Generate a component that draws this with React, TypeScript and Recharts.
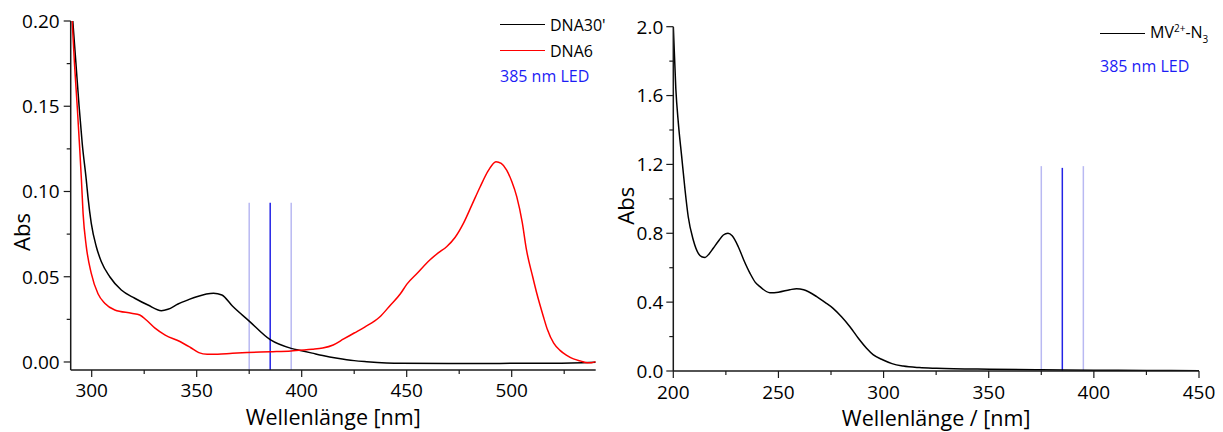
import React from 'react';
import { LineChart, Line, XAxis, YAxis, ReferenceLine, Legend } from 'recharts';

// left panel: DNA spectra
const dna30Nm = [291, 292.5, 294, 295.5, 297.4, 298.2, 299.8, 302.2, 304.6, 308.6, 314.1, 320.5, 326.8, 333.2, 336.3, 341.1, 346, 350, 358, 362, 367, 375, 385, 395, 400, 405, 410, 417, 425, 431, 447, 470, 500, 520, 540];
const dna30Abs = [0.2, 0.175, 0.15, 0.128, 0.107, 0.097, 0.0813, 0.0676, 0.0588, 0.05, 0.0422, 0.0374, 0.0334, 0.0301, 0.0309, 0.034, 0.0365, 0.0383, 0.0403, 0.0393, 0.0328, 0.024, 0.0131, 0.008, 0.0066, 0.0052, 0.0038, 0.0022, 0.0008, 0.0002, -0.0008, -0.0009, -0.0008, -0.0007, -0.0001];

const dna6Nm = [290.7, 291.8, 293.1, 294.3, 295.1, 295.9, 297.4, 299.8, 303, 306.2, 311, 318.9, 322.9, 326, 330, 335, 342, 347, 351, 355, 360, 367, 374, 385, 395, 405, 410, 415, 420, 425, 430, 437, 442, 447, 450, 455, 461, 465, 469, 473, 477, 481, 485, 489, 492.5, 495, 497.6, 500, 502.4, 505, 507, 510, 512, 515, 517, 520, 523, 526, 529.4, 533, 536, 538, 540];
const dna6Abs = [0.2, 0.175, 0.15, 0.125, 0.107, 0.087, 0.068, 0.052, 0.04, 0.0344, 0.0305, 0.0286, 0.0276, 0.0246, 0.02, 0.0158, 0.012, 0.0085, 0.0055, 0.0045, 0.0046, 0.0051, 0.0055, 0.006, 0.0065, 0.0074, 0.0082, 0.01, 0.0135, 0.017, 0.0205, 0.0262, 0.033, 0.04, 0.0455, 0.052, 0.0598, 0.064, 0.0676, 0.073, 0.0813, 0.092, 0.1028, 0.1125, 0.1175, 0.1165, 0.1126, 0.106, 0.097, 0.082, 0.066, 0.05, 0.04, 0.027, 0.019, 0.011, 0.0068, 0.004, 0.0018, 0.0005, -0.0004, -0.0004, 0.0002];

// right panel: MV2+-N3
const mvNm = [200, 201.2, 202.4, 204, 205.6, 207.1, 209.5, 211.9, 213.5, 215.1, 217, 219, 221.5, 223.8, 226, 228, 230.9, 233.5, 236.5, 239, 241.2, 245.9, 250, 255.4, 258.6, 262, 268.2, 272, 276, 280, 284, 288, 291.9, 295, 299.8, 304, 309.3, 317, 325.2, 350.5, 375, 400, 425, 450];
const mvAbs = [2.0, 1.64, 1.44, 1.244, 1.05, 0.896, 0.761, 0.683, 0.664, 0.66, 0.68, 0.713, 0.755, 0.79, 0.8, 0.785, 0.722, 0.645, 0.567, 0.515, 0.49, 0.455, 0.458, 0.472, 0.478, 0.472, 0.432, 0.4, 0.364, 0.315, 0.257, 0.19, 0.132, 0.095, 0.064, 0.043, 0.029, 0.02, 0.0157, 0.01, 0.007, 0.005, 0.003, 0.002];

// LED marker lines (centre + band edges)
const ledNm = [375, 385, 395];
const ledTopLeft = [0.0934, 0.0934, 0.0934];
const ledTopRight = [1.19, 1.18, 1.19];

const leftXMajor = [300, 350, 400, 450, 500];
const leftXMinor = [325, 375, 425, 475, 525];
const leftYMajor = [0, 0.05, 0.1, 0.15, 0.2];
const leftYMinor = [0.025, 0.075, 0.125, 0.175];
const rightXMajor = [200, 250, 300, 350, 400, 450];
const rightXMinor = [225, 275, 325, 375, 425];
const rightYMajor = [0, 0.4, 0.8, 1.2, 1.6, 2.0];
const rightYMinor = [0.2, 0.6, 1.0, 1.4, 1.8];

const zip = (xs: number[], ys: number[]) => xs.map((x, i) => ({ x, y: ys[i] }));
const allTicks = (a: number[], b: number[]) => [...a, ...b].sort((p, q) => p - q);

const AXIS = '#1a1a1a';
const LED_DARK = '#2323e6';
const LED_LIGHT = '#b9b9f2';
const FONT = "'Open Sans', sans-serif";

const xTick = (majors: number[], digits: number, dy: number) => (props: any) => {
  const { x, y, payload } = props;
  const v = payload.value;
  const major = majors.some((m) => Math.abs(m - v) < 1e-9);
  return (
    <g>
      <line x1={x} y1={y} x2={x} y2={y + (major ? 7 : 4)} stroke={AXIS} strokeWidth={1.2} />
      {major && (
        <text x={x} y={y + dy} textAnchor="middle" fontSize={19} fill="#000" fontFamily={FONT}>
          {v.toFixed(digits)}
        </text>
      )}
    </g>
  );
};

const yTick = (majors: number[], digits: number, gap: number) => (props: any) => {
  const { x, y, payload } = props;
  const v = payload.value;
  const major = majors.some((m) => Math.abs(m - v) < 1e-9);
  return (
    <g>
      <line x1={x} y1={y} x2={x - (major ? 7 : 4)} y2={y} stroke={AXIS} strokeWidth={1.2} />
      {major && (
        <text x={x - gap} y={y + 6.8} textAnchor="end" fontSize={19} fill="#000" fontFamily={FONT}>
          {v.toFixed(digits)}
        </text>
      )}
    </g>
  );
};

const xTitle = (text: string, dy: number) => (props: any) => {
  const { x, y, width } = props.viewBox;
  return (
    <text x={x + width / 2} y={y + dy} textAnchor="middle" fontSize={21.5} fill="#000" fontFamily={FONT}>
      {text}
    </text>
  );
};

const yTitle = (text: string, dx: number, cy: number) => (props: any) => {
  const { x, y, width } = props.viewBox;
  const cx = x + width - dx;
  const yy = y + cy;
  return (
    <text x={cx} y={yy} transform={`rotate(-90, ${cx}, ${yy})`} textAnchor="middle" dominantBaseline="central" fontSize={22} fill="#000" fontFamily={FONT}>
      {text}
    </text>
  );
};

const legendContent = (rowH: number) => (props: any) => {
  const payload = (props.payload || []).filter((p: any) => p.value);
  const row: React.CSSProperties = { height: rowH, display: 'flex', alignItems: 'center', whiteSpace: 'nowrap' };
  return (
    <div style={{ fontFamily: FONT, fontSize: 16, color: '#000' }}>
      {payload.map((p: any) => (
        <div key={p.value} style={row}>
          <div style={{ width: 45, borderTop: `1.5px solid ${p.color}`, marginRight: 5 }} />
          <span>
            {p.value === 'MV' ? (
              <>
                MV<sup style={{ fontSize: 10 }}>2+</sup>-N<sub style={{ fontSize: 10 }}>3</sub>
              </>
            ) : (
              p.value
            )}
          </span>
        </div>
      ))}
      <div style={{ ...row, color: '#1c1cf5' }}>385 nm LED</div>
    </div>
  );
};

export default function App() {
  const leftMin = -0.0047;
  return (
    <div style={{ position: 'absolute', left: 0, top: 0, width: 1223, height: 432, background: '#fff', fontFamily: FONT }}>
      <div style={{ position: 'absolute', left: 0, top: 0 }}>
        <LineChart width={610} height={432} margin={{ top: 21, right: 14.3, bottom: 12, left: 10.7 }}>
          <XAxis
            dataKey="x"
            type="number"
            domain={[290, 540]}
            ticks={allTicks(leftXMajor, leftXMinor)}
            interval={0}
            tickSize={0}
            tickMargin={0}
            tickLine={false}
            tick={xTick(leftXMajor, 0, 27)}
            axisLine={{ stroke: AXIS, strokeWidth: 1.5 }}
            height={50}
            allowDataOverflow
            label={xTitle('Wellenlänge [nm]', 55)}
          />
          <YAxis
            type="number"
            domain={[leftMin, 0.2]}
            ticks={allTicks(leftYMajor, leftYMinor)}
            interval={0}
            tickSize={0}
            tickMargin={0}
            tickLine={false}
            tick={yTick(leftYMajor, 2, 11)}
            axisLine={{ stroke: AXIS, strokeWidth: 1.5 }}
            width={60}
            allowDataOverflow
            label={yTitle('Abs', 50, 211)}
          />
          {ledNm.map((nm, i) => (
            <ReferenceLine
              key={nm}
              segment={[{ x: nm, y: leftMin }, { x: nm, y: ledTopLeft[i] }]}
              stroke={i === 1 ? LED_DARK : LED_LIGHT}
              strokeWidth={1.5}
            />
          ))}
          <Line data={zip(dna30Nm, dna30Abs)} dataKey="y" name="DNA30'" type="monotone" stroke="#000" strokeWidth={1.5} dot={false} isAnimationActive={false} />
          <Line data={zip(dna6Nm, dna6Abs)} dataKey="y" name="DNA6" type="monotone" stroke="#ff0000" strokeWidth={1.5} dot={false} isAnimationActive={false} />
          <Legend
            layout="vertical"
            align="center"
            verticalAlign="middle"
            wrapperStyle={{ left: 500, top: 12, width: 120 }}
            content={legendContent(25.7)}
          />
        </LineChart>
      </div>
      <div style={{ position: 'absolute', left: 610, top: 0 }}>
        <LineChart width={613} height={432} margin={{ top: 26.7, right: 24, bottom: 11, left: 8.3 }}>
          <XAxis
            dataKey="x"
            type="number"
            domain={[200, 450]}
            ticks={allTicks(rightXMajor, rightXMinor)}
            interval={0}
            tickSize={0}
            tickMargin={0}
            tickLine={false}
            tick={xTick(rightXMajor, 0, 28)}
            axisLine={{ stroke: AXIS, strokeWidth: 1.5 }}
            height={50}
            allowDataOverflow
            label={xTitle('Wellenlänge / [nm]', 54.5)}
          />
          <YAxis
            type="number"
            domain={[0, 2]}
            ticks={allTicks(rightYMajor, rightYMinor)}
            interval={0}
            tickSize={0}
            tickMargin={0}
            tickLine={false}
            tick={yTick(rightYMajor, 1, 10)}
            axisLine={{ stroke: AXIS, strokeWidth: 1.5 }}
            width={55}
            allowDataOverflow
            label={yTitle('Abs', 48, 179)}
          />
          {ledNm.map((nm, i) => (
            <ReferenceLine
              key={nm}
              segment={[{ x: nm, y: 0 }, { x: nm, y: ledTopRight[i] }]}
              stroke={i === 1 ? LED_DARK : LED_LIGHT}
              strokeWidth={1.5}
            />
          ))}
          <Line data={zip(mvNm, mvAbs)} dataKey="y" name="MV" type="monotone" stroke="#000" strokeWidth={1.5} dot={false} isAnimationActive={false} />
          <Legend
            layout="vertical"
            align="center"
            verticalAlign="middle"
            wrapperStyle={{ left: 490, top: 17.25, width: 120 }}
            content={legendContent(32.5)}
          />
        </LineChart>
      </div>
    </div>
  );
}
